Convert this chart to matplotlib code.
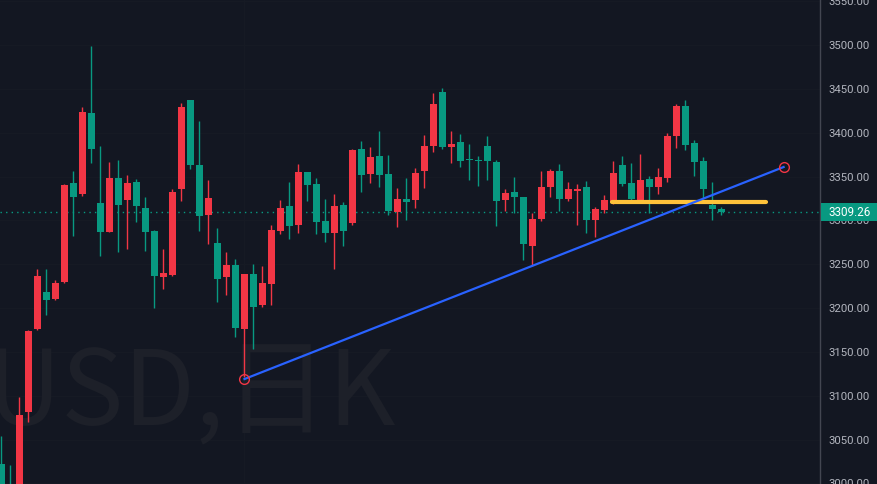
import matplotlib
matplotlib.use("Agg")
import matplotlib.pyplot as plt
import matplotlib.transforms as mtransforms
from matplotlib.patches import Rectangle
import numpy as np

# daily candles, XAUUSD (red = up, green = down)
opens = [3022, 2995, 2960, 3081, 3176, 3218, 3210, 3230, 3343, 3330,
         3422, 3320, 3287, 3348, 3323, 3344, 3314, 3288, 3235, 3238,
         3336, 3437, 3363, 3306, 3274, 3235, 3249, 3176, 3239, 3203,
         3227, 3288, 3316, 3295, 3355, 3342, 3299, 3286, 3318, 3297,
         3381, 3353, 3373, 3353, 3310, 3324, 3323, 3356, 3385, 3446,
         3384, 3389, 3370, 3369, 3385, 3367, 3323, 3332, 3327, 3271,
         3302, 3338, 3356, 3324, 3334, 3338, 3300, 3312, 3321, 3363,
         3343, 3322, 3347, 3338, 3348, 3396, 3430, 3388, 3368, 3318,
         3313]
highs = [3054, 3021, 3098, 3175, 3245, 3245, 3232, 3342, 3356, 3429,
         3499, 3385, 3367, 3369, 3352, 3347, 3327, 3289, 3267, 3336,
         3434, 3437, 3413, 3346, 3291, 3264, 3256, 3239, 3250, 3248,
         3295, 3323, 3344, 3364, 3355, 3348, 3324, 3330, 3321, 3381,
         3391, 3384, 3402, 3375, 3337, 3348, 3360, 3397, 3445, 3451,
         3402, 3399, 3387, 3373, 3396, 3369, 3336, 3349, 3327, 3308,
         3356, 3359, 3364, 3344, 3342, 3345, 3315, 3329, 3368, 3373,
         3365, 3376, 3351, 3360, 3400, 3433, 3437, 3392, 3372, 3344,
         3315]
lows = [2975, 2960, 2950, 3070, 3175, 3192, 3209, 3228, 3282, 3328,
        3365, 3259, 3287, 3264, 3267, 3298, 3265, 3200, 3222, 3237,
        3322, 3359, 3288, 3273, 3207, 3215, 3167, 3121, 3153, 3201,
        3203, 3284, 3279, 3286, 3322, 3284, 3275, 3245, 3271, 3295,
        3332, 3343, 3338, 3306, 3292, 3300, 3314, 3337, 3378, 3381,
        3365, 3361, 3346, 3339, 3346, 3294, 3311, 3308, 3255, 3248,
        3299, 3327, 3311, 3322, 3295, 3286, 3281, 3308, 3319, 3339,
        3322, 3321, 3308, 3330, 3344, 3383, 3380, 3351, 3324, 3300,
        3306]
closes = [2985, 2975, 3078, 3174, 3237, 3209, 3229, 3340, 3327, 3424,
          3381, 3287, 3348, 3318, 3343, 3316, 3287, 3237, 3240, 3332,
          3429, 3363, 3305, 3326, 3233, 3249, 3177, 3239, 3201, 3229,
          3289, 3314, 3294, 3355, 3340, 3298, 3286, 3316, 3288, 3380,
          3352, 3372, 3352, 3311, 3324, 3321, 3354, 3385, 3433, 3384,
          3387, 3368, 3369, 3368, 3368, 3322, 3331, 3327, 3273, 3302,
          3338, 3356, 3324, 3336, 3336, 3300, 3313, 3323, 3354, 3342,
          3324, 3346, 3338, 3349, 3396, 3430, 3386, 3367, 3336, 3313,
          3309.26]
last_price = 3309.26

# drawings
trend_x = [27, 86.9]
trend_y = [3119, 3360.8]
level_x = [67.8, 84.9]
level_y = 3320.6
price_ticks = list(range(3000, 3551, 50))

bg = "#131722"
up_col = "#f23645"
down_col = "#089981"

fig = plt.figure(figsize=(8.78, 4.84), dpi=100)
fig.patch.set_facecolor(bg)
ax = fig.add_axes([0, 0, 820 / 878, 1])
ax.set_facecolor(bg)

o = np.array(opens, float)
c = np.array(closes, float)
h = np.array(highs, float)
l = np.array(lows, float)
x = np.arange(len(o))
cols = [up_col if cc >= oo else down_col for oo, cc in zip(o, c)]

ax.vlines(x, l, h, colors=cols, linewidth=1, zorder=3)
bot = np.minimum(o, c)
hgt = np.maximum(np.abs(c - o), 0.8)
ax.bar(x, hgt, bottom=bot, width=0.78, color=cols, linewidth=0, zorder=4)

# watermark
ax.text(396 / 820, 59 / 484, "XAUUSD,日K", transform=ax.transAxes,
        ha="right", va="baseline", fontsize=75, color="#1d2029",
        family=["Noto Sans CJK SC", "DejaVu Sans"], zorder=1)

# grid (very faint)
for p in price_ticks:
    ax.axhline(p, color="#161a24", linewidth=1, zorder=0.5)
ax.axvline(27, color="#161a24", linewidth=1, zorder=0.5)

# current price line
ax.axhline(last_price, color=down_col, linestyle=(0, (1, 3)), linewidth=1, zorder=2)

# trend line + anchors
ax.plot(trend_x, trend_y, color="#2962ff", linewidth=1.6, zorder=6)
ax.plot(trend_x, trend_y, linestyle="none", marker="o", markersize=7,
        markerfacecolor="none", markeredgecolor="#f23645", markeredgewidth=1, zorder=7)

# horizontal level
ax.plot(level_x, [level_y, level_y], color="#ffc23a", linewidth=3,
        solid_capstyle="round", zorder=5)

ax.set_xlim(-1.5 / 9, (820 - 1.5) / 9)
ax.set_ylim(3500 - 439 / 0.8767, 3500 + 45 / 0.8767)

ax.yaxis.tick_right()
ax.set_yticks(price_ticks)
ax.set_yticklabels(["%.2f" % p for p in price_ticks], family="Roboto")
ax.tick_params(axis="y", length=0, pad=6, labelsize=8.2, labelcolor="#b2b5be")
ax.set_xticks([])
for s in ["top", "left", "bottom"]:
    ax.spines[s].set_visible(False)
ax.spines["right"].set_color("#434651")
ax.spines["right"].set_linewidth(1)

# last price tag on the axis
tr = mtransforms.blended_transform_factory(fig.transFigure, ax.transData)
ax.add_patch(Rectangle((821 / 878, last_price - 9 / 0.8767), 57 / 878, 18 / 0.8767,
                       transform=tr, facecolor=down_col, edgecolor="none",
                       clip_on=False, zorder=10))
ax.text(850 / 878, last_price, "%.2f" % last_price, transform=tr,
        ha="center", va="center", fontsize=8.4, color="white", zorder=11,
        family="Roboto", clip_on=False)

fig.savefig("out.png", dpi=100, facecolor=bg)
